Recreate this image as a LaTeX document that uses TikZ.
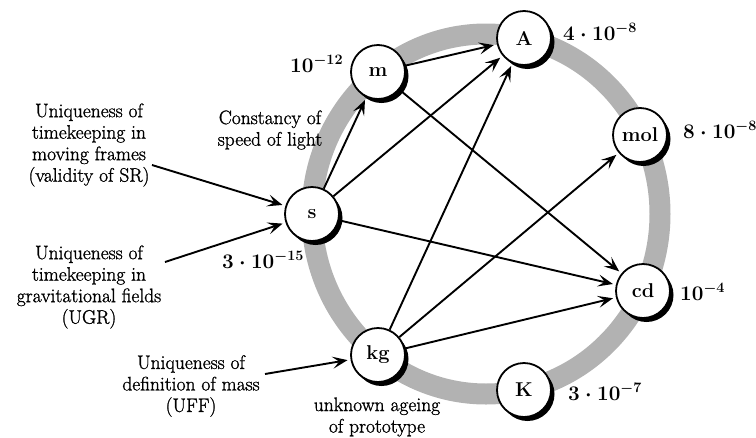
\documentclass[tikz,border=0pt]{standalone}
\usepackage{fontspec}
\newfontfamily\txtfont{Latin Modern Roman}[FakeBold=1.2]
\usetikzlibrary{arrows.meta,shadows}
\begin{document}
\begin{tikzpicture}[x=1pt,y=-1pt,
  unit/.style={circle, draw, line width=1.8pt, fill=white, minimum size=54pt, inner sep=0pt,
    font=\fontsize{20}{24}\selectfont\bfseries,
    drop shadow={shadow xshift=3.5pt, shadow yshift=-4pt, fill=black, opacity=1}},
  val/.style={anchor=base west, font=\fontsize{20}{24}\selectfont\boldmath, inner sep=0pt},
  txt/.style={align=center, font=\txtfont\fontsize{19.5}{21.5}\selectfont, inner sep=0pt},
  arr/.style={line width=1.9pt, -{Stealth[length=15pt,width=12pt,inset=6.5pt]}, shorten >=3pt},
  ring/.style={line width=21pt, draw=black!30}]
\useasboundingbox (0,0) rectangle (756,437);
\draw[ring] (486,214) ellipse [x radius=174pt, y radius=180pt];
\node[unit] (s) at (312,214) {s};
\node[unit] (m) at (378,72) {m};
\node[unit] (A) at (524,38) {A};
\node[unit] (mol) at (640,135) {mol};
\node[unit] (cd) at (643,291) {cd};
\node[unit] (K) at (524,390) {K};
\node[unit] (kg) at (378,355) {kg};
\node[val] (vm) at (290,72) {$10^{-12}$};
\node[val] (vA) at (563,40) {$4\cdot10^{-8}$};
\node[val] (vmol) at (683,138) {$8\cdot10^{-8}$};
\node[val] (vcd) at (680,300) {$10^{-4}$};
\node[val] (vK) at (568,400) {$3\cdot10^{-7}$};
\node[val] (vs) at (222,268) {$3\cdot10^{-15}$};
\node[txt] (t1) at (89,145) {Uniqueness of\\timekeeping in\\moving frames\\(validity of SR)};
\node[txt] (t2) at (89,287) {Uniqueness of\\timekeeping in\\gravitational fields\\(UGR)};
\node[txt] (t3) at (191,386) {Uniqueness of\\definition of mass\\(UFF)};
\node[txt] (t4) at (270,130) {Constancy of\\speed of light};
\node[txt] (t5) at (377,417) {unknown ageing\\of prototype};
\draw[arr] (s) -- (m);
\draw[arr] (m) -- (A);
\draw[arr] (s) -- (A);
\draw[arr] (s) -- (cd);
\draw[arr] (m) -- (cd);
\draw[arr] (kg) -- (A);
\draw[arr] (kg) -- (mol);
\draw[arr] (kg) -- (cd);
\coordinate (c1) at (152,165);
\coordinate (c2) at (165,262);
\coordinate (c3) at (265,374);
\draw[arr] (c1) -- (s);
\draw[arr] (c2) -- (s);
\draw[arr] (c3) -- (kg);
\end{tikzpicture}
\end{document}
